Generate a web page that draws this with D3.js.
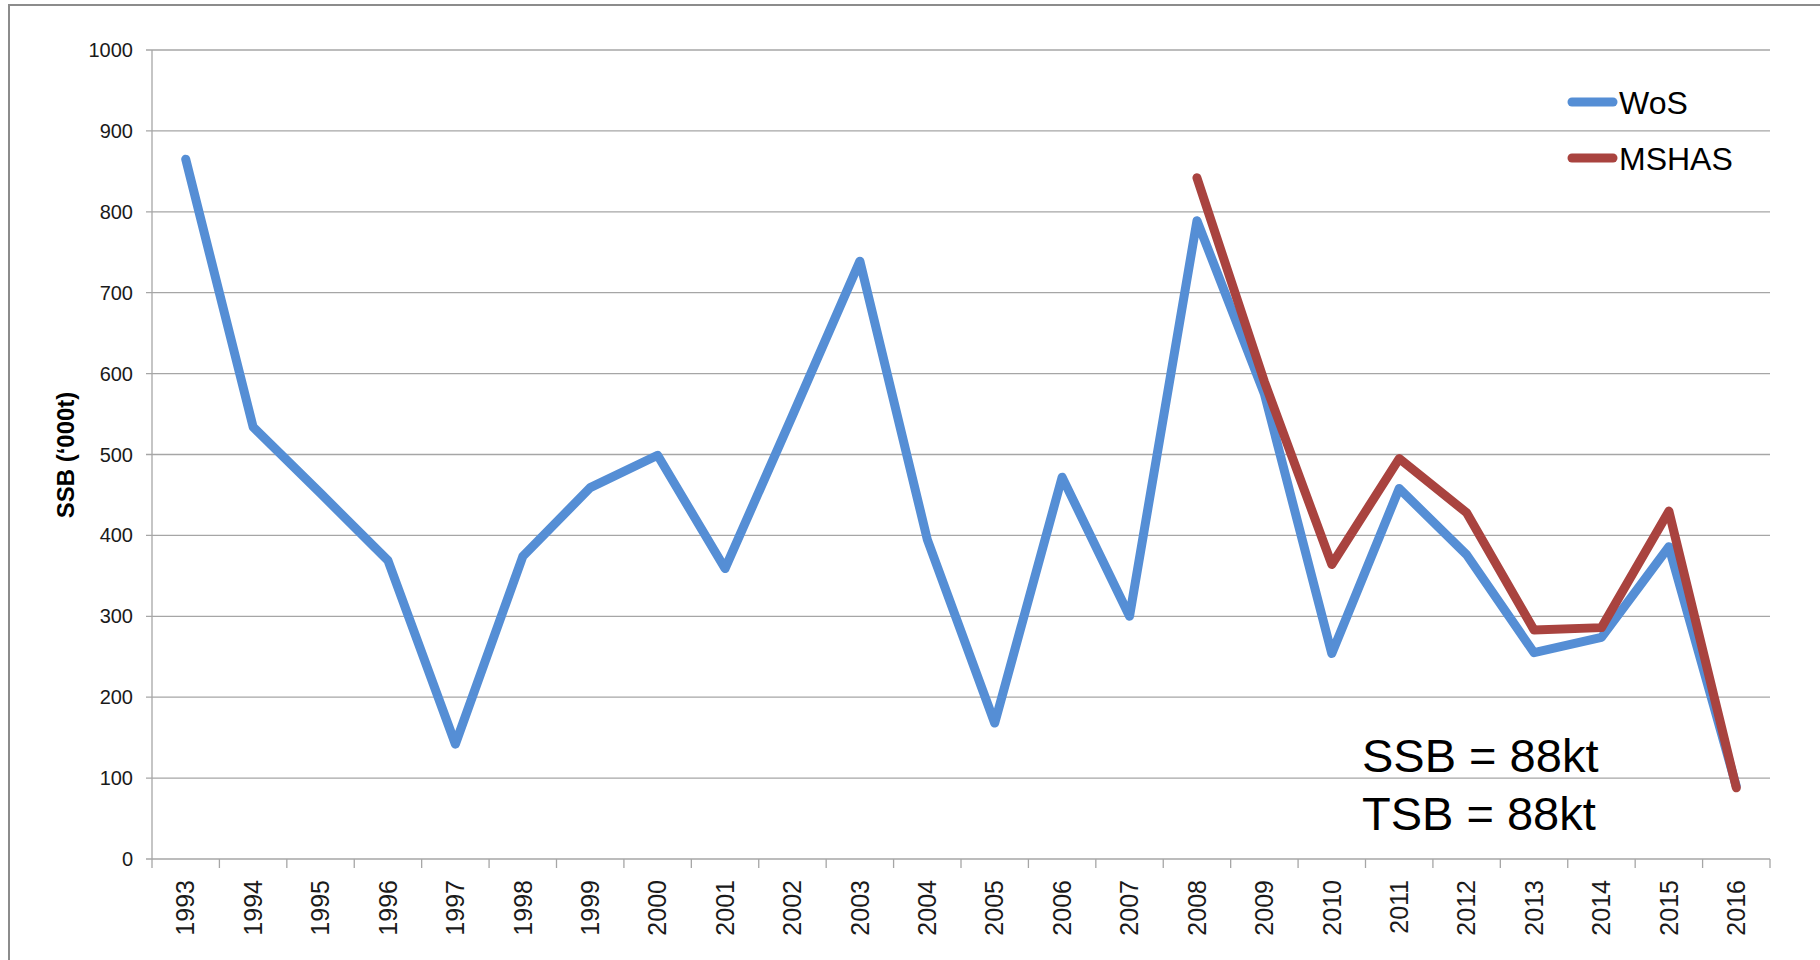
<!DOCTYPE html>
<html>
<head>
<meta charset="utf-8">
<script src="https://cdn.jsdelivr.net/npm/d3@7"></script>
<style>
  body { margin: 0; background: #fff; }
  svg { display: block; }
</style>
</head>
<body>
<svg width="1820" height="960"></svg>
<script>
const years = ['1993','1994','1995','1996','1997','1998','1999','2000','2001','2002','2003','2004',
               '2005','2006','2007','2008','2009','2010','2011','2012','2013','2014','2015','2016'];
const wosValues = [865,534,452,369,142,374,459,499,359,548,739,395,168,472,300,789,575,254,458,376,255,274,386,90];
const mshasYears = ['2008','2009','2010','2011','2012','2013','2014','2015','2016'];
const mshasValues = [842,590,364,495,428,283,286,430,88];
const yTicks = [0,100,200,300,400,500,600,700,800,900,1000];
const seriesNames = ['WoS','MSHAS'];
const seriesColors = ['#558ed5','#a9433f'];
const notes = ['SSB = 88kt','TSB = 88kt'];

function drawChart(){
    const svg = d3.select('svg');
    const left = 152, right = 1770, top = 50, bottom = 859;
    const gridColor = '#a6a6a6';

    // outer frame, right and bottom edges are off the page
    svg.append('rect')
       .attr('x',9).attr('y',5)
       .attr('width',1830).attr('height',970)
       .attr('fill','none')
       .attr('stroke','#8c8c8c')
       .attr('stroke-width',2);

    const x = d3.scaleBand().domain(years).range([left,right]);
    const y = d3.scaleLinear().domain([0,1000]).range([bottom,top]);
    const cx = d => x(d) + x.bandwidth()/2;

    // gridlines
    svg.append('g')
       .selectAll('line')
       .data(yTicks)
       .enter()
       .append('line')
       .attr('x1',left - 6).attr('x2',right)
       .attr('y1',d=>y(d)).attr('y2',d=>y(d))
       .attr('stroke',gridColor)
       .attr('stroke-width',1.3);

    // y axis line
    svg.append('line')
       .attr('x1',left).attr('x2',left)
       .attr('y1',y(1000)).attr('y2',bottom)
       .attr('stroke',gridColor)
       .attr('stroke-width',1.3);

    svg.append('g')
       .selectAll('text')
       .data(yTicks)
       .enter()
       .append('text')
       .attr('x',133)
       .attr('y',d=>y(d))
       .attr('dy','0.35em')
       .attr('text-anchor','end')
       .style('font-family','Liberation Sans, Arial, sans-serif')
       .style('font-size','20px')
       .style('fill','#1a1a1a')
       .text(d=>d);

    // x ticks at the category boundaries
    const bounds = years.map(d=>x(d)).concat([x(years[years.length-1]) + x.bandwidth()]);
    svg.append('g')
       .selectAll('line')
       .data(bounds)
       .enter()
       .append('line')
       .attr('x1',d=>d).attr('x2',d=>d)
       .attr('y1',bottom).attr('y2',bottom + 9)
       .attr('stroke',gridColor)
       .attr('stroke-width',1.3);

    svg.append('g')
       .selectAll('text')
       .data(years)
       .enter()
       .append('text')
       .attr('transform',d=>'translate(' + cx(d) + ',880) rotate(-90)')
       .attr('dy','0.35em')
       .attr('text-anchor','end')
       .style('font-family','Liberation Sans, Arial, sans-serif')
       .style('font-size','25px')
       .style('fill','#1a1a1a')
       .text(d=>d);

    svg.append('text')
       .attr('transform','translate(66,455) rotate(-90)')
       .attr('dy','0.35em')
       .attr('text-anchor','middle')
       .style('font-family','Liberation Sans, Arial, sans-serif')
       .style('font-size','24px')
       .style('font-weight','bold')
       .text('SSB (\u2018000t)');

    const line = d3.line().x(d=>cx(d.year)).y(d=>y(d.value));
    const series = [
        years.map((d,i)=>({year:d, value:wosValues[i]})),
        mshasYears.map((d,i)=>({year:d, value:mshasValues[i]}))
    ];
    svg.append('g')
       .selectAll('path')
       .data(series)
       .enter()
       .append('path')
       .attr('d',line)
       .attr('fill','none')
       .attr('stroke',(d,i)=>seriesColors[i])
       .attr('stroke-width',9)
       .attr('stroke-linecap','round')
       .attr('stroke-linejoin','round');

    // legend
    const legend = svg.append('g')
       .selectAll('g')
       .data(seriesNames)
       .enter()
       .append('g')
       .attr('transform',(d,i)=>'translate(1572,' + (102 + i*56) + ')');
    legend.append('line')
       .attr('x1',0).attr('x2',41)
       .attr('stroke',(d,i)=>seriesColors[i])
       .attr('stroke-width',9)
       .attr('stroke-linecap','round');
    legend.append('text')
       .attr('x',47)
       .attr('dy','0.36em')
       .style('font-family','Liberation Sans, Arial, sans-serif')
       .style('font-size','32px')
       .style('fill','#000')
       .text(d=>d);

    svg.append('g')
       .selectAll('text')
       .data(notes)
       .enter()
       .append('text')
       .attr('x',1362)
       .attr('y',(d,i)=>772 + i*58)
       .style('font-family','Liberation Sans, Arial, sans-serif')
       .style('font-size','47px')
       .style('fill','#000')
       .text(d=>d);
}
drawChart();
</script>
</body>
</html>
